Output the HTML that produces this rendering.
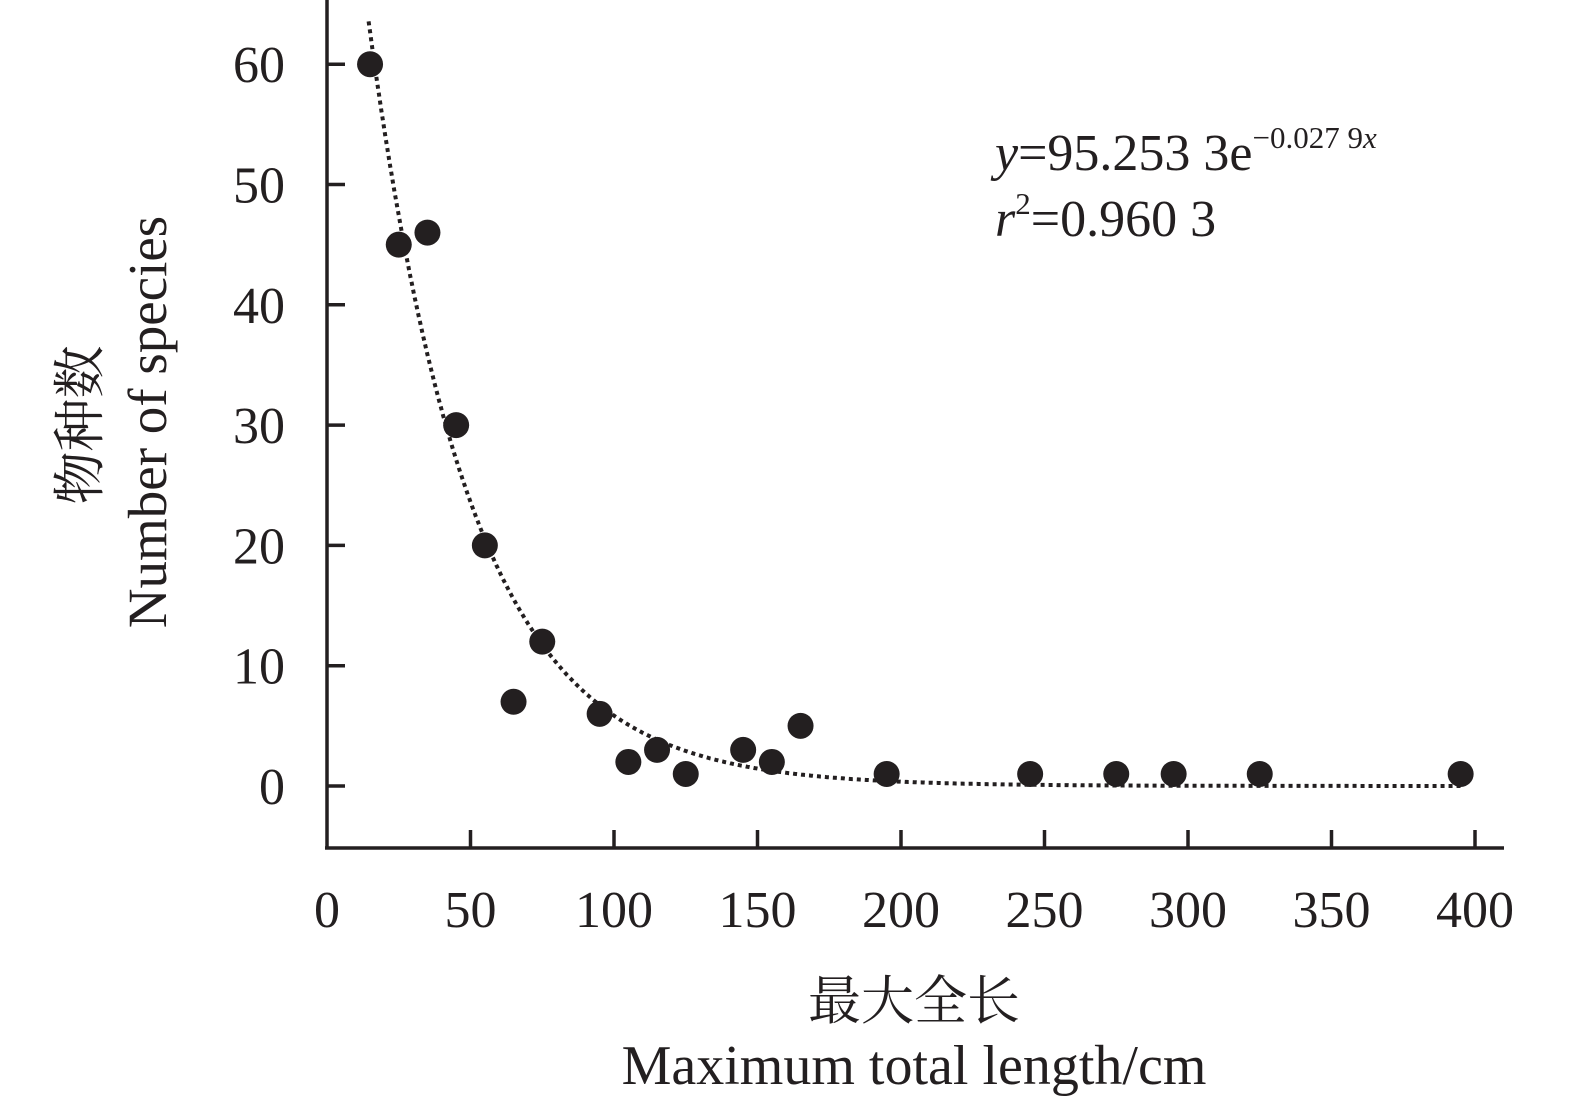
<!DOCTYPE html>
<html><head><meta charset="utf-8"><style>
html,body{margin:0;padding:0;background:#fff;}
svg{display:block;}
text{font-family:"Liberation Serif","Noto Serif CJK SC",serif;fill:#231f20;}
</style></head><body>
<svg id="s" width="1575" height="1108" viewBox="0 0 1575 1108" xmlns="http://www.w3.org/2000/svg">
<g stroke="#231f20" stroke-width="3.5" fill="none">
<line x1="327" y1="0" x2="327" y2="848"/>
<line x1="325" y1="848" x2="1504" y2="848"/>
</g>
<g id="ticks" stroke="#231f20" stroke-width="3.5"></g>
<g font-size="52" text-anchor="end" id="yl"></g>
<g font-size="52" text-anchor="middle" id="xl"></g>
<path id="curve" fill="none" stroke="#231f20" stroke-width="4" stroke-dasharray="4 4"/>
<g id="pts" fill="#231f20"></g>
<text x="995" y="170" font-size="52"><tspan font-style="italic">y</tspan>=95.253 3e<tspan font-size="31" dy="-22">−0.027 9<tspan font-style="italic">x</tspan></tspan></text>
<text x="995" y="236" font-size="52"><tspan font-style="italic">r</tspan><tspan font-size="31" dy="-22">2</tspan><tspan dy="22">=0.960 3</tspan></text>
<text transform="translate(98,425) rotate(-90)" font-size="53" text-anchor="middle" font-family="Noto Serif CJK SC, serif">物种数</text>
<text transform="translate(166,422) rotate(-90)" font-size="55" text-anchor="middle">Number of species</text>
<text x="914" y="1019" font-size="53" text-anchor="middle" font-family="Noto Serif CJK SC, serif">最大全长</text>
<text x="914" y="1084" font-size="56" text-anchor="middle">Maximum total length/cm</text>
</svg>
<script>
var NS="http://www.w3.org/2000/svg";
function X(v){return 327+v*2.87;}
function Y(v){return 786-v*12.03;}
function el(t,a,p,txt){var e=document.createElementNS(NS,t);for(var k in a)e.setAttribute(k,a[k]);if(txt!=null)e.textContent=txt;document.getElementById(p).appendChild(e);}
for(var i=0;i<=60;i+=10){el("line",{x1:327,x2:345,y1:Y(i),y2:Y(i)},"ticks");el("text",{x:285,y:Y(i)+18},"yl",String(i));}
for(var i=50;i<=400;i+=50){el("line",{x1:X(i),x2:X(i),y1:830,y2:848},"ticks");}
for(var i=0;i<=400;i+=50){el("text",{x:X(i),y:927},"xl",String(i));}
var d="";for(var x=14.5;x<=396;x+=0.5){var y=95.2533*Math.exp(-0.0279*x);d+=(d?"L":"M")+X(x).toFixed(1)+","+Y(y).toFixed(1);}
document.getElementById("curve").setAttribute("d",d);
var P=[[15,60],[25,45],[35,46],[45,30],[55,20],[65,7],[75,12],[95,6],[105,2],[115,3],[125,1],[145,3],[155,2],[165,5],[195,1],[245,1],[275,1],[295,1],[325,1],[395,1]];
P.forEach(function(p){el("circle",{cx:X(p[0]),cy:Y(p[1]),r:13},"pts");});
</script>
</body></html>
